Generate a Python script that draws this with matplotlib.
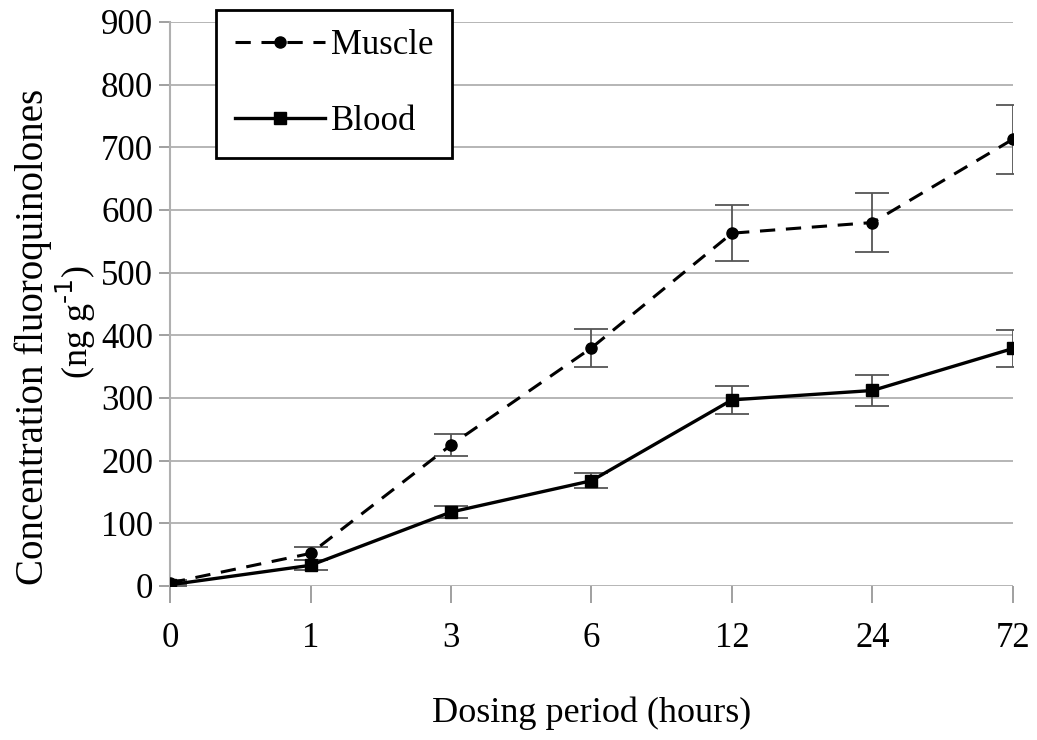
import numpy as np
import matplotlib
matplotlib.use("Agg")
import matplotlib.pyplot as plt

# data
hours = ["0", "1", "3", "6", "12", "24", "72"]
muscle = [5, 52, 225, 380, 563, 580, 713]
muscle_err = [4, 10, 17, 30, 45, 47, 55]
blood = [2, 33, 118, 168, 297, 312, 379]
blood_err = [3, 8, 9, 12, 22, 25, 30]

plt.rcParams['font.family'] = ['Liberation Serif', 'DejaVu Serif']

fig = plt.figure(figsize=(10.37, 7.40), dpi=100)
ax = fig.add_axes([170/1037, 1-586/740, (1013-170)/1037, (586-22)/740])

x = np.arange(len(hours))

ax.errorbar(x, muscle, yerr=muscle_err, color='black', lw=2.2, ls=(0, (5, 3.5)),
            marker='o', ms=8, ecolor='#555555', elinewidth=1.3, capsize=12,
            capthick=1.3, label='Muscle', zorder=3)
ax.errorbar(x, blood, yerr=blood_err, color='black', lw=2.4, ls='-',
            marker='s', ms=8, ecolor='#555555', elinewidth=1.3, capsize=12,
            capthick=1.3, label='Blood', zorder=3)

ax.set_xlim(0, len(hours) - 1)
ax.set_ylim(0, 900)
ax.set_yticks(np.arange(0, 901, 100))
ax.set_xticks(x)
ax.set_xticklabels(hours)
ax.tick_params(axis='both', labelsize=25, colors='#999999', labelcolor='black')
ax.tick_params(axis='y', length=8, width=1.3, pad=4)
ax.tick_params(axis='x', length=12, width=1.3, pad=14)

ax.yaxis.grid(True, color='#b0b0b0', lw=1.3)
ax.set_axisbelow(True)
for s in ['top', 'right', 'bottom']:
    ax.spines[s].set_visible(False)
ax.spines['left'].set_color('#b0b0b0')
ax.spines['left'].set_linewidth(1.5)

ax.set_xlabel('Dosing period (hours)', fontsize=26, labelpad=30)
fig.text(33/1037, 1-337/740, 'Concentration fluoroquinolones', rotation=90,
         fontsize=28, ha='center', va='center')
fig.text(76/1037, 1-322/740, '(ng g$^{\\text{-1}}$)', rotation=90,
         fontsize=26, ha='center', va='center')

handles, labels = ax.get_legend_handles_labels()
handles = [h[0] for h in handles]
leg = ax.legend(handles, labels, loc='upper left', bbox_to_anchor=(216/1037, 1-10/740),
                bbox_transform=fig.transFigure, borderaxespad=0, fontsize=25,
                fancybox=False, framealpha=1, edgecolor='black', numpoints=1,
                handlelength=2.6, labelspacing=1.25, handletextpad=0.15,
                borderpad=0.55)
leg.get_frame().set_linewidth(2)

fig.savefig('out.png', dpi=100)
